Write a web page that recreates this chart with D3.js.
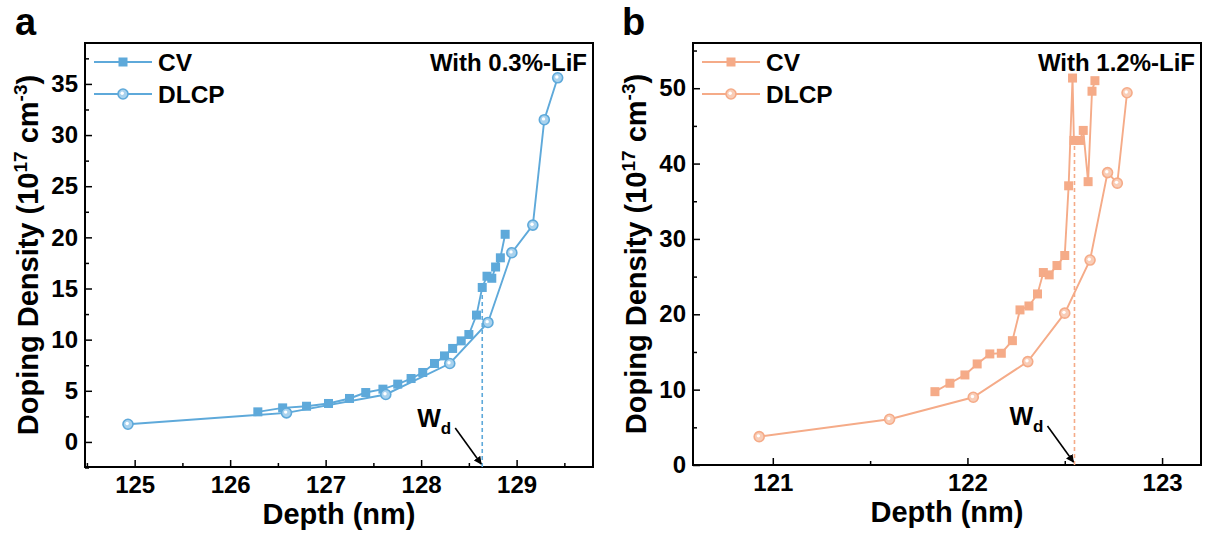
<!DOCTYPE html>
<html>
<head>
<meta charset="utf-8">
<script src="https://cdn.jsdelivr.net/npm/d3@7"></script>
<style>
  body { margin: 0; background: #fff; }
  text { font-family: "Liberation Sans", Arial, sans-serif; font-weight: bold; fill: #000; }
  .tick text { font-size: 24px; }
  .tick line { stroke: #000; stroke-width: 1.5; }
</style>
</head>
<body>
<div class="chart"></div>
<script>
/*
Doping density profiles (CV vs DLCP) for two LiF contents
*/

// panel a: 0.3% LiF
var cvDepthA = [126.29, 126.55, 126.80, 127.03, 127.25, 127.42, 127.60, 127.755, 127.895, 128.017, 128.14,
                128.245, 128.33, 128.42, 128.50, 128.58, 128.64, 128.69, 128.74, 128.78, 128.83, 128.88];
var cvDensA = [2.94, 3.33, 3.49, 3.76, 4.25, 4.83, 5.16, 5.65, 6.2, 6.79, 7.67,
               8.41, 9.14, 9.88, 10.5, 12.4, 15.1, 16.2, 16.0, 17.1, 18.0, 20.3];
var dlcpDepthA = [124.93, 126.59, 127.63, 128.30, 128.70, 128.95, 129.17, 129.29, 129.43];
var dlcpDensA = [1.73, 2.84, 4.64, 7.67, 11.68, 18.5, 21.2, 31.5, 35.6];

// panel b: 1.2% LiF
var cvDepthB = [121.833, 121.91, 121.987, 122.05, 122.115, 122.174, 122.231, 122.27, 122.316, 122.36, 122.39,
                122.42, 122.46, 122.50, 122.52, 122.54, 122.547, 122.578, 122.595, 122.62, 122.64, 122.655];
var cvDensB = [9.73, 10.85, 11.95, 13.41, 14.74, 14.83, 16.5, 20.58, 21.1, 22.7, 25.54,
               25.23, 26.47, 27.8, 37.05, 51.35, 43.07, 43.07, 44.4, 37.6, 49.6, 51.0];
var dlcpDepthB = [120.93, 121.60, 122.03, 122.31, 122.50, 122.63, 122.72, 122.77, 122.82];
var dlcpDensB = [3.76, 6.07, 8.99, 13.72, 20.15, 27.2, 38.8, 37.4, 49.4];

// depletion width markers [depth, top of dashed line]
var wdA = [128.64, 15.0];
var wdB = [122.55, 42.8];

// tick values
var xTicksA = [125, 126, 127, 128, 129];
var xMinorA = [124.5, 125.5, 126.5, 127.5, 128.5, 129.5];
var yTicksA = [0, 5, 10, 15, 20, 25, 30, 35];
var yMinorA = [-2.5, 2.5, 7.5, 12.5, 17.5, 22.5, 27.5, 32.5, 37.5];
var xTicksB = [121, 122, 123];
var xMinorB = [121.5, 122.5];
var yTicksB = [0, 10, 20, 30, 40, 50];
var yMinorB = [5, 15, 25, 35, 45, 55];

var seriesNames = ["CV", "DLCP"];
var notes = ["With 0.3%-LiF", "With 1.2%-LiF"];
var panelLetters = ["a", "b"];

var blue = "#5ea9da", blueLight = "#a8d2ee";
var orange = "#f5ab88", orangeLight = "#f9cdb7";

var svg = d3.select(".chart").append("svg")
    .attr("width", 1207)
    .attr("height", 539);

var defs = svg.append("defs");
defs.append("marker")
    .attr("id", "arrow")
    .attr("viewBox", "0 0 10 10")
    .attr("refX", 9).attr("refY", 5)
    .attr("markerWidth", 8).attr("markerHeight", 8)
    .attr("markerUnits", "userSpaceOnUse")
    .attr("orient", "auto")
    .append("path")
    .attr("d", "M0,0 L10,5 L0,10 z")
    .attr("fill", "#000");

var panels = [
    {left: 85, right: 593, top: 43, bottom: 467, xDom: [124.48, 129.8], yDom: [-2.45, 39],
     xT: xTicksA, xM: xMinorA, yT: yTicksA, yM: yMinorA,
     cvX: cvDepthA, cvY: cvDensA, dlX: dlcpDepthA, dlY: dlcpDensA, wd: wdA,
     col: blue, light: blueLight, note: notes[0], letter: panelLetters[0], letterX: 15, titleX: 28},
    {left: 693, right: 1201, top: 43, bottom: 465, xDom: [120.59, 123.2], yDom: [0, 56],
     xT: xTicksB, xM: xMinorB, yT: yTicksB, yM: yMinorB,
     cvX: cvDepthB, cvY: cvDensB, dlX: dlcpDepthB, dlY: dlcpDensB, wd: wdB,
     col: orange, light: orangeLight, note: notes[1], letter: panelLetters[1], letterX: 622, titleX: 636}
];

panels.forEach(drawPanel);

function drawPanel(p){
    var x = d3.scaleLinear().domain(p.xDom).range([p.left, p.right]);
    var y = d3.scaleLinear().domain(p.yDom).range([p.bottom, p.top]);
    var g = svg.append("g");

    // axes, ticks pointing inward
    g.append("g")
        .attr("transform", "translate(0," + p.bottom + ")")
        .call(d3.axisBottom(x).tickValues(p.xT).tickSizeInner(-7).tickSizeOuter(0).tickPadding(9).tickFormat(d3.format("d")))
        .call(cleanAxis);
    g.append("g")
        .attr("transform", "translate(0," + p.bottom + ")")
        .call(d3.axisBottom(x).tickValues(p.xM).tickSizeInner(-4).tickSizeOuter(0).tickFormat(""))
        .call(cleanAxis);
    g.append("g")
        .attr("transform", "translate(" + p.left + ",0)")
        .call(d3.axisLeft(y).tickValues(p.yT).tickSizeInner(-7).tickSizeOuter(0).tickPadding(7).tickFormat(d3.format("d")))
        .call(cleanAxis);
    g.append("g")
        .attr("transform", "translate(" + p.left + ",0)")
        .call(d3.axisLeft(y).tickValues(p.yM).tickSizeInner(-4).tickSizeOuter(0).tickFormat(""))
        .call(cleanAxis);

    // frame
    g.append("rect")
        .attr("x", p.left).attr("y", p.top)
        .attr("width", p.right - p.left).attr("height", p.bottom - p.top)
        .attr("fill", "none").attr("stroke", "#000").attr("stroke-width", 2);

    // axis titles
    g.append("text")
        .attr("x", (p.left + p.right) / 2).attr("y", p.bottom + 57)
        .attr("text-anchor", "middle").style("font-size", "29px")
        .text("Depth (nm)");
    var yt = g.append("text")
        .attr("transform", "translate(" + p.titleX + "," + ((p.top + p.bottom) / 2) + ") rotate(-90)")
        .attr("text-anchor", "middle").attr("dy", "0.35em").style("font-size", "29px");
    yt.append("tspan").text("Doping Density (10");
    yt.append("tspan").attr("dy", -11).style("font-size", "19px").text("17");
    yt.append("tspan").attr("dy", 11).text(" cm");
    yt.append("tspan").attr("dy", -11).style("font-size", "19px").text("-3");
    yt.append("tspan").attr("dy", 11).text(")");

    // panel letter
    g.append("text")
        .attr("x", p.letterX).attr("y", 35)
        .style("font-size", "38px")
        .text(p.letter);

    // W_d dashed line and arrow
    g.append("line")
        .attr("x1", x(p.wd[0])).attr("x2", x(p.wd[0]))
        .attr("y1", p.bottom).attr("y2", y(p.wd[1]))
        .attr("stroke", p.col).attr("stroke-width", 1.6)
        .attr("stroke-dasharray", "4,3");
    g.append("line")
        .attr("x1", x(p.wd[0]) - 27).attr("y1", p.bottom - 39)
        .attr("x2", x(p.wd[0]) - 1).attr("y2", p.bottom - 3)
        .attr("stroke", "#000").attr("stroke-width", 1.6)
        .attr("marker-end", "url(#arrow)");
    var wt = g.append("text")
        .attr("x", x(p.wd[0]) - 65).attr("y", p.bottom - 40)
        .style("font-size", "25px");
    wt.append("tspan").text("W");
    wt.append("tspan").attr("dy", 7).style("font-size", "17px").text("d");

    // lines
    var cvData = p.cvX.map(function(d, i){ return [d, p.cvY[i]]; });
    var dlData = p.dlX.map(function(d, i){ return [d, p.dlY[i]]; });
    var line = d3.line().x(function(d){ return x(d[0]); }).y(function(d){ return y(d[1]); });

    g.append("path").datum(dlData)
        .attr("d", line).attr("fill", "none")
        .attr("stroke", p.col).attr("stroke-width", 1.9);
    g.append("path").datum(cvData)
        .attr("d", line).attr("fill", "none")
        .attr("stroke", p.col).attr("stroke-width", 1.9);

    // markers
    g.selectAll(".sq").data(cvData).enter().append("rect")
        .attr("class", "sq")
        .attr("x", function(d){ return x(d[0]) - 4.5; })
        .attr("y", function(d){ return y(d[1]) - 4.5; })
        .attr("width", 9).attr("height", 9)
        .attr("fill", p.col);
    drawCircles(g, dlData.map(function(d){ return [x(d[0]), y(d[1])]; }), p);

    // legend
    var lx = p.left + 9, lw = 58;
    [0, 1].forEach(function(k){
        var ly = 62 + k * 32;
        g.append("line")
            .attr("x1", lx).attr("x2", lx + lw)
            .attr("y1", ly).attr("y2", ly)
            .attr("stroke", p.col).attr("stroke-width", 1.9);
        if(k == 0){
            g.append("rect")
                .attr("x", lx + lw / 2 - 4.5).attr("y", ly - 4.5)
                .attr("width", 9).attr("height", 9)
                .attr("fill", p.col);
        } else {
            drawCircles(g, [[lx + lw / 2, ly]], p);
        }
        g.append("text")
            .attr("x", lx + lw + 6).attr("y", ly).attr("dy", "0.36em")
            .style("font-size", "24.5px")
            .text(seriesNames[k]);
    });

    // note
    g.append("text")
        .attr("x", p.right - 6).attr("y", 62).attr("dy", "0.36em")
        .attr("text-anchor", "end")
        .style("font-size", "24px")
        .text(p.note);
}

function drawCircles(g, pts, p){
    g.selectAll(null).data(pts).enter().append("circle")
        .attr("cx", function(d){ return d[0]; })
        .attr("cy", function(d){ return d[1]; })
        .attr("r", 5)
        .attr("fill", p.light)
        .attr("stroke", p.col).attr("stroke-width", 1.6);
    g.selectAll(null).data(pts).enter().append("circle")
        .attr("cx", function(d){ return d[0] - 0.8; })
        .attr("cy", function(d){ return d[1] - 0.8; })
        .attr("r", 1.7)
        .attr("fill", "#fff");
}

function cleanAxis(sel){
    sel.select(".domain").remove();
    sel.selectAll(".tick line").attr("stroke", "#000").attr("stroke-width", 1.5);
}
</script>
</body>
</html>
